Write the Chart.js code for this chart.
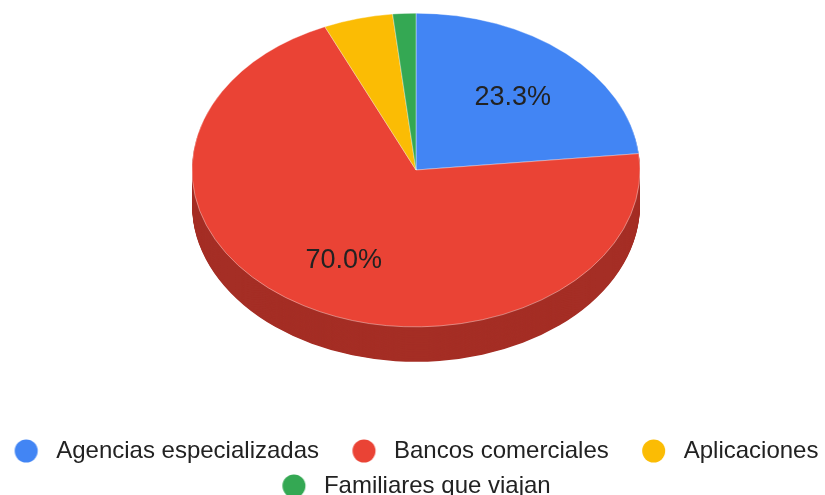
<!DOCTYPE html>
<html>
<head>
<meta charset="utf-8">
<script src="https://cdn.jsdelivr.net/npm/chart.js@4/dist/chart.umd.min.js"></script>
<style>
  html, body { margin: 0; padding: 0; background: #fff; }
  #wrap { width: 825px; height: 495px; }
</style>
</head>
<body>
<div id="wrap"><canvas id="chart"></canvas></div>
<script>
const sliceLabels = ['Agencias especializadas', 'Bancos comerciales', 'Aplicaciones', 'Familiares que viajan'];
const sliceValues = [14, 42, 3, 1];
const sliceColors = ['#4285F4', '#EA4335', '#FBBC04', '#34A853'];
const sideColors = ['#3367C4', '#A52E25', '#C99603', '#2A8642'];

const TILT = 0.7;      // vertical squash of the top face
const DEPTH = 35;      // thickness of the pie on screen
const LABEL_POS = 0.645;
const LABEL_DROP = 3;
const total = sliceValues.reduce((a, b) => a + b, 0);

// legend dots drawn as small images, so the dot can sit near its text
const dotOffset = 7.3;
const dotBox = 18 + dotOffset;
const dots = sliceColors.map(col => {
    const c = document.createElement('canvas');
    c.width = 44; c.height = 24;
    const g = c.getContext('2d');
    g.fillStyle = col;
    g.beginPath();
    g.arc(c.width / 2 + (dotOffset - dotBox / 2), 12, 11.5, 0, Math.PI * 2);
    g.fill();
    return c;
});

const pie3d = {
    id: 'pie3d',
    beforeDatasetsDraw(chart) {
        const ctx = chart.ctx;
        const arcs = chart.getDatasetMeta(0).data;
        const cx = arcs[0].x, cy = arcs[0].y;
        ctx.save();
        ctx.translate(cx, cy);
        ctx.scale(1, TILT);
        ctx.translate(-cx, -cy);
        // side wall: stack darker copies below the top face
        const steps = Math.round(DEPTH / TILT);
        for (let d = steps; d > 0; d--) {
            arcs.forEach((arc, i) => {
                const p = arc.getProps(['x', 'y', 'startAngle', 'endAngle', 'outerRadius']);
                ctx.beginPath();
                ctx.moveTo(p.x, p.y + d);
                ctx.arc(p.x, p.y + d, p.outerRadius, p.startAngle, p.endAngle);
                ctx.closePath();
                ctx.fillStyle = sideColors[i];
                ctx.fill();
            });
        }
    },
    afterDatasetsDraw(chart) {
        const ctx = chart.ctx;
        ctx.restore();
        const arcs = chart.getDatasetMeta(0).data;
        ctx.save();
        ctx.font = '27px Arial, "Liberation Sans", sans-serif';
        ctx.fillStyle = '#222';
        ctx.textAlign = 'center';
        ctx.textBaseline = 'middle';
        arcs.forEach((arc, i) => {
            const share = sliceValues[i] / total;
            if (share < 0.1) return;
            const p = arc.getProps(['x', 'y', 'startAngle', 'endAngle', 'outerRadius']);
            const mid = (p.startAngle + p.endAngle) / 2;
            const r = p.outerRadius * LABEL_POS;
            ctx.fillText((share * 100).toFixed(1) + '%',
                p.x + Math.cos(mid) * r,
                p.y + Math.sin(mid) * r * TILT + LABEL_DROP);
        });
        ctx.restore();
    }
};

new Chart(document.getElementById('chart'), {
    type: 'pie',
    data: {
        labels: sliceLabels,
        datasets: [{
            data: sliceValues,
            backgroundColor: sliceColors,
            borderColor: 'rgba(255,255,255,0.45)',
            borderWidth: 1,
            radius: 224,
            clip: false
        }]
    },
    options: {
        responsive: true,
        maintainAspectRatio: false,
        animation: false,
        events: [],
        layout: { padding: { top: 0, bottom: -13, left: 7, right: -32 } },
        plugins: {
            tooltip: { enabled: false },
            legend: {
                position: 'bottom',
                // empty title only reserves room between the pie and the legend rows
                title: { display: true, text: '', font: { size: 10 }, padding: { top: 0, bottom: 76 } },
                labels: {
                    usePointStyle: true,
                    pointStyleWidth: dotBox,
                    padding: 11,
                    color: '#222',
                    font: { family: 'Arial, "Liberation Sans", sans-serif', size: 24 },
                    generateLabels: chart => chart.data.labels.map((text, i) => ({
                        text: text + '    ',
                        fillStyle: sliceColors[i],
                        strokeStyle: sliceColors[i],
                        lineWidth: 0,
                        pointStyle: dots[i],
                        fontColor: '#222',
                        hidden: false,
                        index: i
                    }))
                }
            }
        }
    },
    plugins: [pie3d]
});
</script>
</body>
</html>
